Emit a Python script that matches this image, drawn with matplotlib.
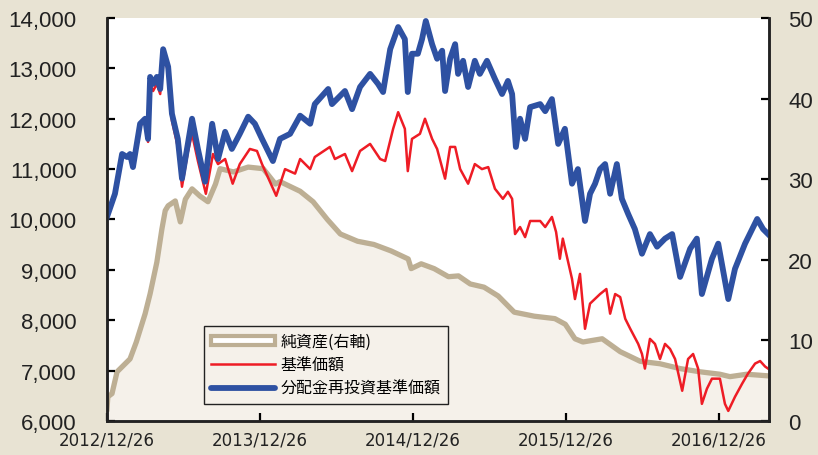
import pandas as pd
import matplotlib.pyplot as plt
from matplotlib.patches import Patch
from matplotlib.lines import Line2D

# 分配金再投資基準価額 (left axis)
blue_dates = [
    "2012-12-26", "2013-01-14", "2013-01-31", "2013-02-12", "2013-02-19", "2013-02-26",
    "2013-03-15", "2013-03-27", "2013-04-03", "2013-04-08", "2013-04-15", "2013-04-24",
    "2013-05-02", "2013-05-09", "2013-05-21", "2013-05-30", "2013-06-13", "2013-06-23",
    "2013-07-07", "2013-07-17", "2013-07-31", "2013-08-17", "2013-09-03", "2013-09-17",
    "2013-10-04", "2013-10-20", "2013-11-08", "2013-11-28", "2013-12-14", "2013-12-31",
    "2014-01-26", "2014-02-12", "2014-03-08", "2014-04-01", "2014-04-25", "2014-05-06",
    "2014-06-07", "2014-06-16", "2014-07-17", "2014-08-03", "2014-08-22", "2014-09-15",
    "2014-10-04", "2014-10-16", "2014-11-02", "2014-11-21", "2014-12-07", "2014-12-14",
    "2014-12-24", "2015-01-07", "2015-01-17", "2015-01-26", "2015-02-10", "2015-02-22",
    "2015-03-06", "2015-03-13", "2015-03-25", "2015-04-06", "2015-04-13", "2015-04-25",
    "2015-05-07", "2015-05-23", "2015-06-04", "2015-06-21", "2015-07-10", "2015-07-27",
    "2015-08-10", "2015-08-20", "2015-08-29", "2015-09-08", "2015-09-20", "2015-10-02",
    "2015-10-26", "2015-11-07", "2015-11-23", "2015-12-08", "2015-12-24", "2016-01-10",
    "2016-01-24", "2016-02-10", "2016-02-22", "2016-03-05", "2016-03-17", "2016-03-29",
    "2016-04-10", "2016-04-26", "2016-05-08", "2016-05-23", "2016-06-08", "2016-06-25",
    "2016-07-14", "2016-07-31", "2016-08-19", "2016-09-05", "2016-09-24", "2016-10-18",
    "2016-11-03", "2016-11-15", "2016-12-09", "2016-12-24", "2017-01-17", "2017-02-02",
    "2017-02-26", "2017-03-27", "2017-04-10", "2017-04-22",
]
blue_values = [
    10050, 10510, 11300, 11240, 11300, 11040,
    11900, 12000, 11600, 12830, 12690, 12830,
    12590, 13380, 13030, 12100, 11600, 10810,
    11500, 12000, 11400, 10750, 11900, 11200,
    11740, 11400, 11700, 12040, 11900, 11600,
    11160, 11600, 11700, 12060, 11900, 12290,
    12590, 12290, 12550, 12190, 12630, 12890,
    12690, 12530, 13380, 13820, 13580, 12530,
    13290, 13290, 13580, 13940, 13480, 13190,
    13350, 12550, 13190, 13480, 12890, 13150,
    12630, 13150, 12890, 13150, 12790, 12490,
    12750, 12490, 11440, 12000, 11600, 12230,
    12290, 12150, 12390, 11500, 11800, 10710,
    11000, 9970, 10510, 10710, 11000, 11100,
    10510, 11100, 10410, 10110, 9810, 9320,
    9710, 9460, 9620, 9710, 8860, 9420,
    9620, 8520, 9220, 9520, 8420, 9020,
    9520, 10010, 9810, 9710,
]

# 基準価額 (left axis)
red_dates = [
    "2012-12-26", "2013-01-14", "2013-01-31", "2013-02-12", "2013-02-19", "2013-02-26",
    "2013-03-15", "2013-03-27", "2013-04-03", "2013-04-08", "2013-04-15", "2013-04-24",
    "2013-05-02", "2013-05-09", "2013-05-21", "2013-05-30", "2013-06-13", "2013-06-23",
    "2013-07-07", "2013-07-17", "2013-07-31", "2013-08-19", "2013-09-05", "2013-09-17",
    "2013-10-04", "2013-10-22", "2013-11-08", "2013-12-02", "2013-12-19", "2013-12-31",
    "2014-02-03", "2014-02-24", "2014-03-20", "2014-04-01", "2014-04-25", "2014-05-06",
    "2014-06-11", "2014-06-23", "2014-07-17", "2014-08-03", "2014-08-22", "2014-09-15",
    "2014-10-09", "2014-10-21", "2014-11-09", "2014-11-21", "2014-12-07", "2014-12-14",
    "2014-12-24", "2015-01-12", "2015-01-24", "2015-02-10", "2015-02-22", "2015-03-13",
    "2015-03-25", "2015-04-06", "2015-04-18", "2015-05-07", "2015-05-23", "2015-06-09",
    "2015-06-24", "2015-07-10", "2015-07-29", "2015-08-10", "2015-08-20", "2015-08-27",
    "2015-09-08", "2015-09-20", "2015-10-02", "2015-10-26", "2015-11-07", "2015-11-23",
    "2015-12-03", "2015-12-12", "2015-12-19", "2016-01-10", "2016-01-17", "2016-01-29",
    "2016-02-10", "2016-02-22", "2016-03-17", "2016-04-01", "2016-04-10", "2016-04-22",
    "2016-05-04", "2016-05-16", "2016-05-28", "2016-06-16", "2016-06-25", "2016-07-02",
    "2016-07-14", "2016-07-26", "2016-08-07", "2016-08-19", "2016-08-31", "2016-09-12",
    "2016-09-29", "2016-10-13", "2016-10-25", "2016-11-06", "2016-11-15", "2016-11-27",
    "2016-12-09", "2016-12-28", "2017-01-09", "2017-01-17", "2017-02-02", "2017-02-19",
    "2017-03-05", "2017-03-22", "2017-04-03", "2017-04-15", "2017-04-22",
]
red_values = [
    10050, 10510, 11300, 11240, 11300, 11040,
    11860, 11940, 11540, 12690, 12550, 12690,
    12490, 13290, 12930, 11960, 11440, 10650,
    11340, 11700, 11160, 10510, 11300, 11100,
    11200, 10710, 11100, 11400, 11360, 11100,
    10470, 11000, 10910, 11200, 11000, 11240,
    11440, 11200, 11300, 10960, 11360, 11500,
    11200, 11160, 11800, 12130, 11800, 10960,
    11600, 11700, 12000, 11600, 11400, 10810,
    11440, 11440, 11000, 10710, 11100, 11000,
    11040, 10610, 10410, 10550, 10410, 9710,
    9850, 9650, 9970, 9970, 9850, 10050,
    9750, 9220, 9620, 8820, 8420, 8920,
    7830, 8330, 8520, 8620, 8130, 8520,
    8460, 8030, 7830, 7530, 7330, 7040,
    7630, 7530, 7230, 7530, 7430, 7230,
    6600, 7230, 7330, 7040, 6340, 6640,
    6840, 6840, 6340, 6200, 6480, 6740,
    6940, 7140, 7190, 7080, 7040,
]

# 純資産 (right axis, 億円)
net_dates = [
    "2012-12-26", "2012-12-28", "2013-01-07", "2013-01-19", "2013-02-19", "2013-03-06",
    "2013-03-27", "2013-04-08", "2013-04-24", "2013-05-06", "2013-05-14", "2013-05-21",
    "2013-06-07", "2013-06-19", "2013-07-01", "2013-07-17", "2013-08-05", "2013-08-24",
    "2013-09-11", "2013-09-22", "2013-10-24", "2013-11-28", "2014-01-03", "2014-02-01",
    "2014-02-12", "2014-04-01", "2014-05-02", "2014-06-05", "2014-07-06", "2014-08-16",
    "2014-09-24", "2014-11-04", "2014-12-15", "2014-12-22", "2015-01-15", "2015-02-15",
    "2015-03-21", "2015-04-14", "2015-05-12", "2015-06-14", "2015-07-18", "2015-08-25",
    "2015-10-12", "2015-11-30", "2015-12-25", "2016-01-17", "2016-02-05", "2016-03-22",
    "2016-05-04", "2016-06-21", "2016-08-07", "2016-09-24", "2016-11-11", "2016-12-28",
    "2017-01-21", "2017-03-02", "2017-04-22",
]
net_values = [
    1.5, 3.0, 3.4, 6.1, 7.7, 9.8,
    13.3, 15.8, 19.7, 23.8, 26.1, 26.7,
    27.3, 24.7, 27.5, 28.8, 27.9, 27.2,
    29.4, 31.3, 30.9, 31.5, 31.3, 29.4,
    29.7, 28.5, 27.2, 25.0, 23.2, 22.3,
    21.9, 21.1, 20.1, 18.9, 19.5, 18.9,
    17.9, 18.0, 17.0, 16.6, 15.5, 13.5,
    13.0, 12.7, 12.0, 10.2, 9.8, 10.2,
    8.6, 7.4, 7.1, 6.5, 6.1, 5.8,
    5.5, 5.8, 5.6,
]

tick_dates = ["2012-12-26", "2013-12-26", "2014-12-26", "2015-12-26", "2016-12-26"]
tick_labels = ["2012/12/26", "2013/12/26", "2014/12/26", "2015/12/26", "2016/12/26"]
legend_labels = ["純資産(右軸)", "基準価額", "分配金再投資基準価額"]

BG = "#E8E3D3"
FILL = "#F5F1EA"
TAN = "#BDAF94"
RED = "#EE1C25"
BLUE = "#2E51A2"

fig = plt.figure(figsize=(8.18, 4.56), dpi=100, facecolor=BG)
ax2 = fig.add_axes([0.1308, 0.0746, 0.8092, 0.8838])
ax = ax2.twinx()
ax2.yaxis.tick_right()
ax.yaxis.tick_left()
ax.yaxis.set_label_position("left")
ax2.set_facecolor("white")
ax.patch.set_visible(False)

nd = pd.to_datetime(net_dates)
ax2.fill_between(nd, 0, net_values, color=FILL, lw=0)
ax2.plot(nd, net_values, color=TAN, lw=3.8, solid_joinstyle="round")
ax.plot(pd.to_datetime(red_dates), red_values, color=RED, lw=1.8)
ax.plot(pd.to_datetime(blue_dates), blue_values, color=BLUE, lw=4.2, solid_joinstyle="round")

ax.set_ylim(6000, 14000)
ax2.set_ylim(0, 50)
ax.set_xlim(pd.Timestamp("2012-12-26"), pd.Timestamp("2017-04-24"))

num_font = "Liberation Sans"
ax.set_yticks(range(6000, 14001, 1000))
ax.set_yticklabels([f"{v:,}" for v in range(6000, 14001, 1000)],
                   fontsize=16, family=num_font, color="#222222")
ax2.set_yticks(range(0, 51, 10))
ax2.set_yticklabels([str(v) for v in range(0, 51, 10)],
                    fontsize=16, family=num_font, color="#222222")
ax2.set_xticks(pd.to_datetime(tick_dates))
ax2.set_xticklabels(tick_labels, fontsize=12,
                    family=["Liberation Sans Narrow", "DejaVu Sans"], color="#222222")

ax.tick_params(axis="y", direction="in", length=6, width=1.6, pad=22, left=True, right=False)
ax2.tick_params(axis="y", direction="in", length=6, width=1.6, pad=14, right=True, left=False)
ax2.tick_params(axis="x", direction="in", length=6, width=1.6, pad=7)
ax.tick_params(axis="x", bottom=False, labelbottom=False)

for a in (ax, ax2):
    a.spines["top"].set_visible(False)
    for s in ("left", "right", "bottom"):
        a.spines[s].set_linewidth(1.8)
        a.spines[s].set_color("#222222")

handles = [
    Patch(facecolor="white", edgecolor=TAN, linewidth=3),
    Line2D([], [], color=RED, lw=1.8),
    Line2D([], [], color=BLUE, lw=4.2, solid_capstyle="round"),
]
leg = ax.legend(handles, legend_labels, loc="lower left", bbox_to_anchor=(0.1465, 0.042),
                borderaxespad=0,
                prop={"family": ["Noto Sans CJK JP", "DejaVu Sans"], "size": 11.5},
                frameon=True, fancybox=False, handlelength=4.0, handleheight=0.55,
                borderpad=0.45, labelspacing=0.4, handletextpad=0.35)
leg.get_frame().set_facecolor(FILL)
leg.get_frame().set_edgecolor("#222222")
leg.get_frame().set_linewidth(1.0)
leg.get_frame().set_alpha(1)

fig.savefig("out.png", dpi=100, facecolor=BG)
